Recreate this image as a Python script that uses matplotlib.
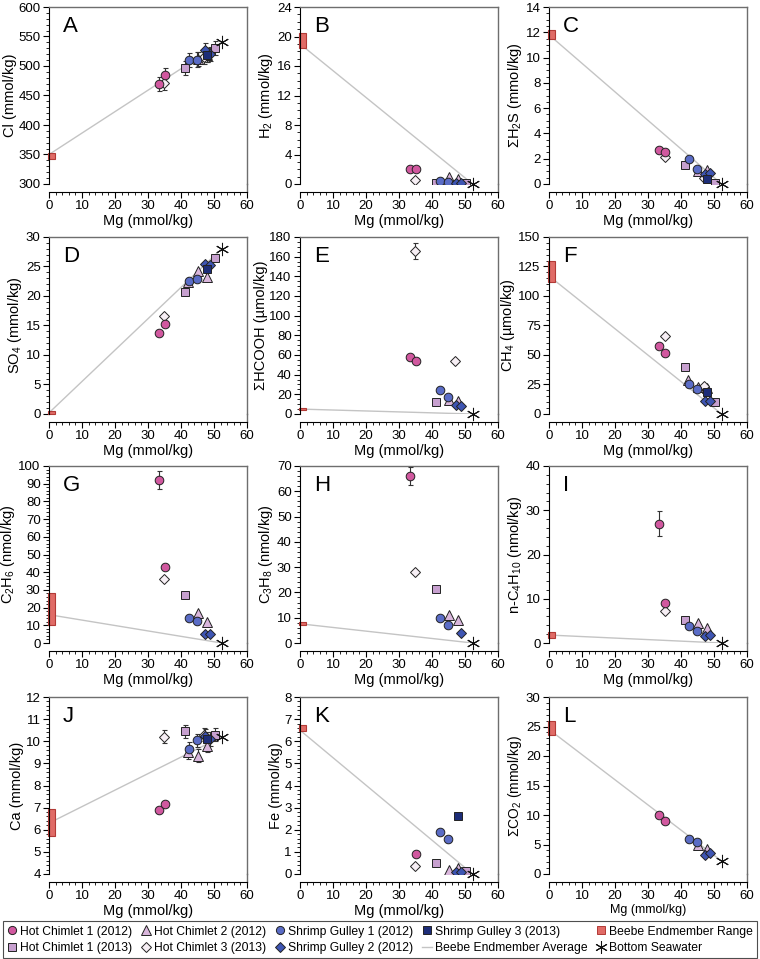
import numpy as np
import matplotlib
matplotlib.use("Agg")
import matplotlib.pyplot as plt
from matplotlib.patches import Rectangle
from matplotlib.lines import Line2D
from matplotlib.ticker import MultipleLocator

plt.rcParams['font.family'] = ['Liberation Sans', 'DejaVu Sans']
plt.rcParams['mathtext.fontset'] = 'custom'
plt.rcParams['mathtext.rm'] = 'Liberation Sans'
plt.rcParams['mathtext.it'] = 'Liberation Sans:italic'
plt.rcParams['mathtext.bf'] = 'Liberation Sans:bold'

nan = np.nan
# ---- samples (order shared by all panels) ----
sample_series = ['HC1_12', 'HC1_12', 'HC1_13', 'HC1_13', 'HC2_12', 'HC2_12', 'HC2_12',
                 'HC3_13', 'HC3_13', 'SG1_12', 'SG1_12', 'SG2_12', 'SG2_12', 'SG3_13']
mg = [33.3, 35.3, 41.3, 50.3, 42.0, 45.3, 47.8, 35.0, 47.0, 42.3, 44.8, 47.2, 48.8, 47.8]

cl = [470, 484, 497, 530, nan, 512, 518, 472, 515, 510, 511, 527, 521, 518]
cl_err = [12, 12, 12, 12, 12, 12, 12, 12, 12, 12, 12, 12, 12, 12]
h2 = [2.1, 2.0, 0.1, 0.1, nan, 0.9, 0.7, 0.5, nan, 0.4, 0.3, 0.2, 0.1, nan]
h2s = [2.65, 2.5, 1.5, 0.1, nan, 1.0, 1.1, 2.1, 0.5, 2.0, 1.15, 0.8, 0.85, 0.4]
so4 = [13.8, 15.2, 20.7, 26.5, 22.3, 24.3, 23.3, 16.6, nan, 22.6, 22.8, 25.4, 25.2, 24.5]
hcooh = [58, 54, 12, nan, nan, 14, 13, 166, 54, 24, 17, 9, 8, nan]
hcooh_err = [0, 0, 0, 0, 0, 0, 0, 8, 0, 0, 0, 0, 0, 0]
ch4 = [58, 52, 40, 10, 29, 23, 22, 66, 24, 25, 21, 11, 11, 19]
c2h6 = [92, 43, 27, nan, nan, 17, 12, 36, nan, 14, 12.5, 5, 5, nan]
c2h6_err = [5, 0, 0, 0, 0, 0, 0, 0, 0, 0, 0, 0, 0, 0]
c3h8 = [66, nan, 21.5, nan, nan, 11, 9, 28, nan, 9.8, 7.2, nan, 4, nan]
c3h8_err = [3.5, 0, 0, 0, 0, 0, 0, 0, 0, 0, 0, 0, 0, 0]
c4h10 = [27, 9, 5.3, nan, nan, 4.5, 3.5, 7.3, nan, 3.8, 2.7, 1.6, 1.8, nan]
c4h10_err = [2.8, 0, 0, 0, 0, 0, 0, 0, 0, 0, 0, 0, 0, 0]
ca = [6.9, 7.15, 10.45, 10.3, 9.5, 9.35, 9.8, 10.2, 10.3, 9.65, 10.05, 10.25, 10.1, 10.1]
ca_err = [0.12, 0.12, 0.3, 0.3, 0.3, 0.3, 0.3, 0.3, 0.3, 0.3, 0.3, 0.3, 0.3, 0.3]
fe = [nan, 0.9, 0.5, 0.15, nan, 0.2, 0.25, 0.35, nan, 1.9, 1.6, 0.1, 0.1, 2.6]
co2 = [10, 9, nan, nan, nan, 5, 4.3, nan, nan, 5.9, 5.5, 3.3, 3.6, nan]

seawater_mg = 52.3
seawater = [540, 0, 0, 28, 0, 0, 0, 0, 0, 10.2, 0, 2.2]
beebe_low = [343, 18.5, 11.5, 0.0, 4, 112, 10, 7.0, 1.2, 5.7, 6.45, 23.5]
beebe_high = [352, 20.5, 12.2, 0.45, 6, 130, 28, 8.2, 2.5, 6.95, 6.75, 26]
beebe_avg = [350, 19, 11.8, 0.2, 5, 117, 16, 7.6, 1.8, 6.3, 6.5, 24.5]

panel_letters = ['A', 'B', 'C', 'D', 'E', 'F', 'G', 'H', 'I', 'J', 'K', 'L']
ylabels = ['Cl (mmol/kg)', r'H$_2$ (mmol/kg)', r'ΣH$_2$S (mmol/kg)', r'SO$_4$ (mmol/kg)',
           'ΣHCOOH (µmol/kg)', r'CH$_4$ (µmol/kg)', r'C$_2$H$_6$ (nmol/kg)', r'C$_3$H$_8$ (nmol/kg)',
           r'n-C$_4$H$_{10}$ (nmol/kg)', 'Ca (mmol/kg)', 'Fe (mmol/kg)', r'ΣCO$_2$ (mmol/kg)']
xlabel = 'Mg (mmol/kg)'
x_ticks = [0, 10, 20, 30, 40, 50, 60]

legend_labels = {'HC1_12': 'Hot Chimlet 1 (2012)', 'HC1_13': 'Hot Chimlet 1 (2013)',
                 'HC2_12': 'Hot Chimlet 2 (2012)', 'HC3_13': 'Hot Chimlet 3 (2013)',
                 'SG1_12': 'Shrimp Gulley 1 (2012)', 'SG2_12': 'Shrimp Gulley 2 (2012)',
                 'SG3_13': 'Shrimp Gulley 3 (2013)'}
styles = {'HC1_12': dict(marker='o', color='#d1589f', ms=6.2),
          'HC1_13': dict(marker='s', color='#c7a0cf', ms=5.8),
          'HC2_12': dict(marker='^', color='#d9b6dc', ms=7.0),
          'HC3_13': dict(marker='D', color='#f7eff5', ms=5.2),
          'SG1_12': dict(marker='o', color='#5a6cc6', ms=6.2),
          'SG2_12': dict(marker='D', color='#3e55b3', ms=5.2),
          'SG3_13': dict(marker='s', color='#1d2d78', ms=5.8)}
draw_order = ['HC1_13', 'HC2_12', 'HC3_13', 'HC1_12', 'SG1_12', 'SG2_12', 'SG3_13']

panel_y = [cl, h2, h2s, so4, hcooh, ch4, c2h6, c3h8, c4h10, ca, fe, co2]
panel_err = [cl_err, None, None, None, hcooh_err, None, c2h6_err, c3h8_err, c4h10_err, ca_err, None, None]
ylims = [(300, 600), (0, 24), (0, 14), (0, 30), (0, 180), (0, 150), (0, 100), (0, 70), (0, 40),
         (4, 12), (0, 8), (0, 30)]
ymajor = [50, 4, 2, 5, 20, 25, 10, 10, 10, 1, 1, 5]
yminor = [10, 1, 0.5, 1, 5, 5, 2, 2, 2, 0.2, 0.2, 1]

beebe_color = '#e06b66'
beebe_edge = '#b23a36'
avg_color = '#c4c4c4'

W, H = 760, 959
fig = plt.figure(figsize=(W / 100, H / 100), dpi=100)
col_left = [49, 300, 549]
ax_w = 198
row_top = [7, 237, 466, 697]
ax_h = 177
off_px = 8

for i in range(12):
    r, c = divmod(i, 3)
    ax = fig.add_axes([col_left[c] / W, 1 - (row_top[r] + ax_h) / H, ax_w / W, ax_h / H])
    yv = np.array(panel_y[i], dtype=float)
    xv = np.array(mg, dtype=float)
    # endmember average line
    ax.plot([0, seawater_mg], [beebe_avg[i], seawater[i]], color=avg_color, lw=1.0, zorder=1)
    # endmember range
    ax.add_patch(Rectangle((-0.2, beebe_low[i]), 1.9, beebe_high[i] - beebe_low[i],
                           facecolor=beebe_color, edgecolor=beebe_edge, lw=0.8, zorder=2,
                           clip_on=False))
    err = panel_err[i]
    for s in draw_order:
        idx = [k for k, n in enumerate(sample_series) if n == s]
        st = styles[s]
        xs = xv[idx]
        ys = yv[idx]
        if err is not None:
            ev = np.array(err, dtype=float)[idx]
            m = ~np.isnan(ys) & (ev > 0)
            if m.any():
                ax.errorbar(xs[m], ys[m], yerr=ev[m], fmt='none', ecolor='#333333',
                            elinewidth=0.8, capsize=1.8, capthick=0.8, zorder=3)
        ax.plot(xs, ys, linestyle='none', marker=st['marker'], ms=st['ms'],
                markerfacecolor=st['color'], markeredgecolor='#222222', markeredgewidth=0.7,
                zorder=4)
    ax.plot([seawater_mg], [seawater[i]], linestyle='none', marker=(6, 2, 0), ms=9.5,
            color='#111111', markeredgewidth=0.75, zorder=5, clip_on=False)

    ax.set_xlim(0, 60)
    ax.set_ylim(*ylims[i])
    ax.set_xticks(x_ticks)
    ax.xaxis.set_minor_locator(MultipleLocator(2))
    ax.yaxis.set_major_locator(MultipleLocator(ymajor[i]))
    ax.yaxis.set_minor_locator(MultipleLocator(yminor[i]))
    ax.tick_params(which='major', direction='out', length=4, width=0.8, labelsize=9.5, pad=2)
    ax.tick_params(which='minor', direction='out', length=2.2, width=0.6)
    ax.spines['bottom'].set_position(('outward', off_px * 0.72))
    for sp in ['top', 'right']:
        ax.spines[sp].set_color('#6e6e6e')
        ax.spines[sp].set_linewidth(1.0)
    for sp in ['left', 'bottom']:
        ax.spines[sp].set_linewidth(0.8)
    ax.add_line(Line2D([1, 1], [-off_px / ax_h, 0], transform=ax.transAxes, color='#6e6e6e',
                       lw=1.0, clip_on=False))
    ax.set_xlabel(xlabel, fontsize=10.5 if i != 11 else 9, labelpad=1)
    ax.set_ylabel(ylabels[i], fontsize=10.5 if i != 11 else 10, labelpad=1)
    ax.text(0.07, 0.95, panel_letters[i], transform=ax.transAxes, fontsize=16,
            ha='left', va='top')

# legend
def mk(s):
    st = styles[s]
    return Line2D([], [], linestyle='none', marker=st['marker'], ms=st['ms'] * 0.95,
                  markerfacecolor=st['color'], markeredgecolor='#222222', markeredgewidth=0.7)

handles = [mk('HC1_12'), mk('HC1_13'), mk('HC2_12'), mk('HC3_13'), mk('SG1_12'), mk('SG2_12'),
           mk('SG3_13'), Line2D([], [], color=avg_color, lw=1.0),
           Line2D([], [], linestyle='none', marker='s', ms=5.5, markerfacecolor=beebe_color,
                  markeredgecolor=beebe_edge, markeredgewidth=0.7),
           Line2D([], [], linestyle='none', marker=(6, 2, 0), ms=9, color='#111111',
                  markeredgewidth=0.75)]
labels = [legend_labels['HC1_12'], legend_labels['HC1_13'], legend_labels['HC2_12'],
          legend_labels['HC3_13'], legend_labels['SG1_12'], legend_labels['SG2_12'],
          legend_labels['SG3_13'], 'Beebe Endmember Average', 'Beebe Endmember Range',
          'Bottom Seawater']
leg = fig.legend(handles, labels, ncol=5, loc='lower left',
                 bbox_to_anchor=(3 / W, 1 / H, 754 / W, 39 / H), mode='expand',
                 fontsize=8.7, frameon=True, fancybox=False, edgecolor='#222222',
                 handlelength=0.8, handletextpad=0.25, columnspacing=0.4, borderpad=0.35,
                 labelspacing=0.35, borderaxespad=0)
leg.get_frame().set_linewidth(0.8)

fig.savefig('out.png', dpi=100)
